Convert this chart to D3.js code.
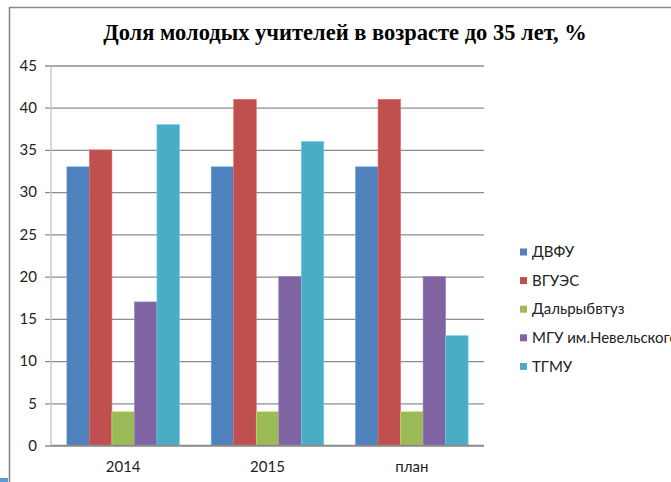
<!DOCTYPE html>
<html>
<head>
<meta charset="utf-8">
<script src="https://cdn.jsdelivr.net/npm/d3@7"></script>
<style>
  html, body { margin: 0; padding: 0; background: #fff; }
  svg { display: block; }
</style>
</head>
<body>
<svg width="671" height="482"></svg>
<script>
  // chart data
  const categories = ['2014', '2015', 'план'];
  const seriesNames = ['ДВФУ', 'ВГУЭС', 'Дальрыбвтуз', 'МГУ им.Невельского', 'ТГМУ'];
  const seriesColors = ['#4F81BD', '#C0504D', '#9BBB59', '#8064A2', '#4BACC6'];
  const values2014 = [33, 35, 4, 17, 38];
  const values2015 = [33, 41, 4, 20, 36];
  const valuesPlan = [33, 41, 4, 20, 13];
  const yTicks = [0, 5, 10, 15, 20, 25, 30, 35, 40, 45];
  const titleText = 'Доля молодых учителей в возрасте до 35 лет, %';

  const rows = [values2014, values2015, valuesPlan].map((vals, i) => ({
    category: categories[i],
    values: vals.map((v, j) => ({ series: seriesNames[j], value: v }))
  }));

  const svg = d3.select('svg');
  const labelFont = 'Lato, "Open Sans", sans-serif';

  // outer frame (slide border)
  svg.append('path')
    .attr('d', 'M9.5,482 V7.5 H671')
    .attr('fill', 'none')
    .attr('stroke', '#8a8a8a')
    .attr('stroke-width', 1.6);
  svg.append('rect')
    .attr('x', 0).attr('y', 478).attr('width', 8).attr('height', 4)
    .attr('fill', '#5b9bd5');

  svg.append('text')
    .attr('x', 345)
    .attr('y', 40)
    .attr('text-anchor', 'middle')
    .style('font-family', '"Liberation Serif", "Times New Roman", serif')
    .style('font-weight', 'bold')
    .style('font-size', '22.5px')
    .text(titleText);

  const margin = { left: 51, top: 65.5, right: 187, bottom: 36.5 };
  const innerWidth = 671 - margin.left - margin.right;
  const innerHeight = 482 - margin.top - margin.bottom;

  const g = svg.append('g')
    .attr('transform', `translate(${margin.left},${margin.top})`);

  const x0 = d3.scaleBand()
    .domain(categories)
    .range([0, innerWidth])
    .paddingInner(0.22)
    .paddingOuter(0.11);

  const x1 = d3.scaleBand()
    .domain(seriesNames)
    .range([0, x0.bandwidth()]);

  const y = d3.scaleLinear()
    .domain([0, 45])
    .range([innerHeight, 0]);

  const color = d3.scaleOrdinal().domain(seriesNames).range(seriesColors);

  // gridlines
  const yAxis = d3.axisLeft(y)
    .tickValues(yTicks)
    .tickSize(-innerWidth)
    .tickPadding(14);
  const yAxisG = g.append('g').call(yAxis);
  yAxisG.select('.domain').remove();
  yAxisG.selectAll('.tick line')
    .attr('x1', -6)
    .attr('stroke', '#8c8c8c')
    .attr('stroke-width', 1.3);
  yAxisG.selectAll('.tick text')
    .style('font-family', labelFont)
    .style('font-size', '15px')
    .attr('fill', '#222');

  // left axis line
  g.append('line')
    .attr('x1', 0).attr('x2', 0)
    .attr('y1', 0).attr('y2', innerHeight)
    .attr('stroke', '#c8c8c8')
    .attr('stroke-width', 1.5);

  // bars
  const groups = g.selectAll('.group').data(rows)
    .enter().append('g')
      .attr('class', 'group')
      .attr('transform', d => `translate(${x0(d.category)},0)`);

  groups.selectAll('rect').data(d => d.values)
    .enter().append('rect')
      .attr('x', d => x1(d.series))
      .attr('y', d => y(d.value))
      .attr('width', x1.bandwidth())
      .attr('height', d => innerHeight - y(d.value))
      .attr('fill', d => color(d.series))
      .attr('stroke', d => d3.color(color(d.series)).brighter(0.6))
      .attr('stroke-width', 0.6);

  // baseline
  g.append('line')
    .attr('x1', 0).attr('x2', innerWidth)
    .attr('y1', innerHeight).attr('y2', innerHeight)
    .attr('stroke', '#8c8c8c')
    .attr('stroke-width', 1.3);

  // x labels
  const xAxisG = g.append('g')
    .attr('transform', `translate(0,${innerHeight})`)
    .call(d3.axisBottom(x0).tickSize(0).tickPadding(16));
  xAxisG.select('.domain').remove();
  xAxisG.selectAll('.tick text')
    .style('font-family', labelFont)
    .style('font-size', '15px')
    .attr('fill', '#222');

  // legend
  const legend = svg.append('g')
    .attr('transform', 'translate(520,252)');
  const item = legend.selectAll('.item').data(seriesNames)
    .enter().append('g')
      .attr('class', 'item')
      .attr('transform', (d, i) => `translate(0,${i * 28.6})`);
  item.append('rect')
    .attr('x', 0).attr('y', -3.5)
    .attr('width', 7).attr('height', 7)
    .attr('fill', d => color(d));
  item.append('text')
    .attr('x', 12)
    .attr('y', 0)
    .attr('dy', '0.35em')
    .style('font-family', labelFont)
    .style('font-size', '15px')
    .attr('fill', '#222')
    .text(d => d);
</script>
</body>
</html>
